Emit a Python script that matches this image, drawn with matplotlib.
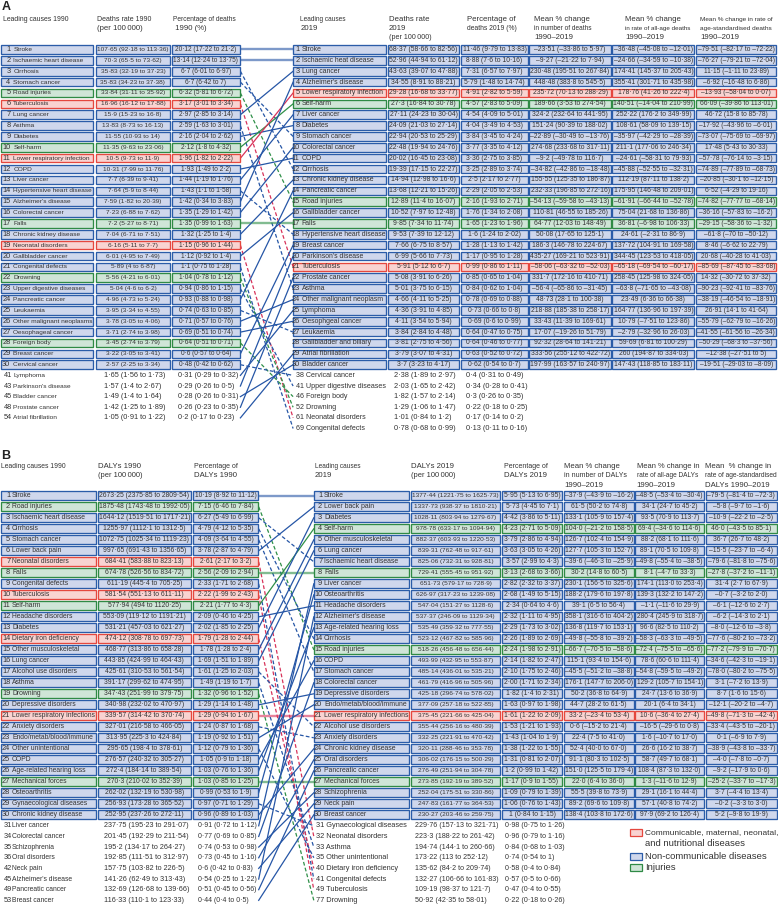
import matplotlib
matplotlib.use("Agg")
import matplotlib.pyplot as plt
from matplotlib.patches import Rectangle
from matplotlib import font_manager

avail = {f.name for f in font_manager.fontManager.ttflist}
FONT = [f for f in ["Liberation Sans Narrow", "Liberation Sans"] if f in avail][:1] or ["DejaVu Sans"]
plt.rcParams["font.family"] = FONT + ["DejaVu Sans"]
STRETCH = "normal"

# ---------------------------------------------------------------- DATA: panel A (deaths)
A90_CAUSE = ["Stroke", "Ischaemic heart disease", "Cirrhosis", "Stomach cancer", "Road injuries",
             "Tuberculosis", "Lung cancer", "Asthma", "Diabetes", "Self-harm",
             "Lower respiratory infection", "COPD", "Liver cancer", "Hypertensive heart disease",
             "Alzheimer's disease", "Colorectal cancer", "Falls", "Chronic kidney disease",
             "Neonatal disorders", "Gallbladder cancer", "Congenital defects", "Drowning",
             "Upper digestive diseases", "Pancreatic cancer", "Leukaemia", "Other malignant neoplasms",
             "Oesophageal cancer", "Foreign body", "Breast cancer", "Cervical cancer"]
A90_CAT = ["N", "N", "N", "N", "I", "C", "N", "N", "N", "I", "C", "N", "N", "N", "N",
           "N", "I", "N", "C", "N", "N", "I", "N", "N", "N", "N", "N", "I", "N", "N"]
A90_RATE = ["107.65 (92.18 to 113.36)", "70.3 (65.5 to 73.62)", "35.83 (32.19 to 37.23)",
            "35.83 (34.23 to 37.38)", "33.84 (31.11 to 35.92)", "16.96 (16.12 to 17.88)",
            "15.9 (15.23 to 16.8)", "13.83 (8.73 to 16.13)", "11.55 (10.93 to 14)",
            "11.35 (9.63 to 23.06)", "10.5 (9.73 to 11.9)", "10.31 (7.99 to 11.76)",
            "7.7 (6.39 to 9.41)", "7.64 (5.9 to 8.44)", "7.59 (1.82 to 20.39)",
            "7.23 (6.88 to 7.62)", "7.2 (5.27 to 8.71)", "7.04 (6.71 to 7.51)",
            "6.16 (5.11 to 7.7)", "6.01 (4.95 to 7.49)", "5.89 (4 to 6.87)",
            "5.56 (4.21 to 6.01)", "5.04 (4.6 to 6.2)", "4.96 (4.73 to 5.24)",
            "3.95 (3.34 to 4.55)", "3.78 (3.05 to 4.06)", "3.71 (2.74 to 3.98)",
            "3.45 (2.74 to 3.79)", "3.22 (3.05 to 3.41)", "2.57 (2.25 to 3.34)"]
A90_PCT = ["20.12 (17.22 to 21.2)", "13.14 (12.24 to 13.75)", "6.7 (6.01 to 6.97)",
           "6.7 (6.42 to 7)", "6.32 (5.81 to 6.72)", "3.17 (3.01 to 3.34)",
           "2.97 (2.85 to 3.14)", "2.59 (1.63 to 3.01)", "2.16 (2.04 to 2.62)",
           "2.12 (1.8 to 4.32)", "1.96 (1.82 to 2.22)", "1.93 (1.49 to 2.2)",
           "1.44 (1.19 to 1.76)", "1.43 (1.1 to 1.58)", "1.42 (0.34 to 3.83)",
           "1.35 (1.29 to 1.42)", "1.35 (0.99 to 1.63)", "1.32 (1.25 to 1.4)",
           "1.15 (0.96 to 1.44)", "1.12 (0.92 to 1.4)", "1.1 (0.75 to 1.28)",
           "1.04 (0.78 to 1.12)", "0.94 (0.86 to 1.15)", "0.93 (0.88 to 0.98)",
           "0.74 (0.63 to 0.85)", "0.71 (0.57 to 0.76)", "0.69 (0.51 to 0.74)",
           "0.64 (0.51 to 0.71)", "0.6 (0.57 to 0.64)", "0.48 (0.42 to 0.62)"]
A90_TO2019 = [1, 2, 12, 9, 15, 21, 3, 23, 8, 6, 5, 11, 7, 18, 4, 10, 17, 13, 61, 16,
              69, 52, 41, 14, 27, 24, 26, 46, 19, 38]

A90X_RANK = [41, 43, 45, 48, 54]
A90X_CAUSE = ["Lymphoma", "Parkinson's disease", "Bladder cancer", "Prostate cancer", "Atrial fibrillation"]
A90X_CAT = ["N", "N", "N", "N", "N"]
A90X_RATE = ["1.65 (1.56 to 1.73)", "1.57 (1.4 to 2.67)", "1.49 (1.4 to 1.64)",
             "1.42 (1.25 to 1.89)", "1.05 (0.91 to 1.22)"]
A90X_PCT = ["0.31 (0.29 to 0.32)", "0.29 (0.26 to 0.5)", "0.28 (0.26 to 0.31)",
            "0.26 (0.23 to 0.35)", "0.2 (0.17 to 0.23)"]
A90X_TO2019 = [25, 20, 30, 22, 29]

A19_CAUSE = ["Stroke", "Ischaemic heat disease", "Lung cancer", "Alzheimer's disease",
             "Lower respiratory infection", "Self-harm", "Liver cancer", "Diabetes",
             "Stomach cancer", "Colorectal cancer", "COPD", "Cirrhosis", "Chronic kidney disease",
             "Pancreatic cancer", "Road injuries", "Gallbladder cancer", "Falls",
             "Hypertensive heart disease", "Breast cancer", "Parkinson's disease", "Tuberculosis",
             "Prostate cancer", "Asthma", "Other malignant neoplasm", "Lymphoma",
             "Oesophgeal cancer", "Leukaemia", "Gallbladder and biliary", "Atrial fibrillation",
             "Bladder cancer"]
A19_CAT = ["N", "N", "N", "N", "C", "I", "N", "N", "N", "N", "N", "N", "N", "N", "I",
           "N", "I", "N", "N", "N", "C", "N", "N", "N", "N", "N", "N", "N", "N", "N"]
A19_RATE = ["68.37 (58.66 to 82.56)", "52.96 (44.94 to 61.12)", "43.63 (39.07 to 47.88)",
            "34.55 (8.91 to 88.21)", "29.28 (16.68 to 33.77)", "27.3 (16.84 to 30.78)",
            "27.11 (24.23 to 30.04)", "24.09 (21.03 to 27.14)", "22.94 (20.53 to 25.29)",
            "22.48 (19.94 to 24.76)", "20.02 (16.45 to 23.08)", "19.39 (17.15 to 22.27)",
            "14.94 (12.98 to 16.6)", "13.68 (12.21 to 15.26)", "12.89 (11.4 to 16.07)",
            "10.52 (7.97 to 12.48)", "9.85 (7.34 to 11.74)", "9.53 (7.39 to 12.12)",
            "7.66 (6.75 to 8.57)", "6.99 (5.66 to 7.73)", "5.91 (5.12 to 6.7)",
            "5.08 (3.91 to 6.26)", "5.01 (3.75 to 6.15)", "4.66 (4.11 to 5.25)",
            "4.36 (3.91 to 4.85)", "4.11 (3.54 to 5.94)", "3.84 (2.84 to 4.48)",
            "3.81 (2.75 to 4.56)", "3.79 (3.07 to 4.31)", "3.7 (3.23 to 4.17)"]
A19_PCT = ["11.46 (9.79 to 13.83)", "8.88 (7.6 to 10.16)", "7.31 (6.57 to 7.97)",
           "5.79 (1.48 to 14.74)", "4.91 (2.82 to 5.59)", "4.57 (2.83 to 5.09)",
           "4.54 (4.09 to 5.01)", "4.04 (3.49 to 4.53)", "3.84 (3.45 to 4.24)",
           "3.77 (3.35 to 4.12)", "3.36 (2.75 to 3.85)", "3.25 (2.89 to 3.74)",
           "2.5 (2.17 to 2.77)", "2.29 (2.05 to 2.53)", "2.16 (1.93 to 2.71)",
           "1.76 (1.34 to 2.08)", "1.65 (1.23 to 1.96)", "1.6 (1.24 to 2.02)",
           "1.28 (1.13 to 1.42)", "1.17 (0.95 to 1.28)", "0.99 (0.86 to 1.11)",
           "0.85 (0.65 to 1.04)", "0.84 (0.62 to 1.04)", "0.78 (0.69 to 0.88)",
           "0.73 (0.66 to 0.8)", "0.69 (0.6 to 0.99)", "0.64 (0.47 to 0.75)",
           "0.64 (0.46 to 0.77)", "0.63 (0.52 to 0.72)", "0.62 (0.54 to 0.7)"]
A19_CHG_NUM = ["-23.51 (-33.86 to 5.97)", "-9.27 (-21.22 to 7.94)", "230.48 (195.51 to 267.84)",
               "448.48 (383.8 to 545.5)", "235.72 (70.13 to 288.29)", "189.66 (3.53 to 274.54)",
               "324.2 (232.64 to 441.95)", "151.24 (90.39 to 188.02)", "-22.89 (-30.49 to -13.76)",
               "274.68 (233.68 to 317.11)", "-9.2 (-49.78 to 116.7)", "-34.82 (-42.86 to -18.48)",
               "155.55 (125.35 to 186.87)", "232.33 (196.85 to 272.16)", "-54.13 (-59.58 to -43.13)",
               "110.81 (46.55 to 185.26)", "64.77 (12.03 to 148.49)", "50.08 (17.65 to 125.1)",
               "186.3 (146.78 to 224.67)", "435.27 (169.21 to 523.91)", "-58.06 (-63.32 to -52.03)",
               "331.7 (172.16 to 410.71)", "-56.4 (-65.86 to -31.45)", "48.73 (28.1 to 100.38)",
               "218.88 (185.38 to 258.17)", "33.43 (11.39 to 169.61)", "17.07 (-19.26 to 51.79)",
               "92.32 (28.64 to 141.21)", "333.56 (255.12 to 422.72)", "197.99 (163.57 to 240.97)"]
A19_CHG_ALL = ["-36.48 (-45.08 to -12.01)", "-24.66 (-34.59 to -10.38)", "174.41 (145.37 to 205.43)",
               "355.41 (301.71 to 435.98)", "178.76 (41.26 to 222.4)", "140.51 (-14.04 to 210.99)",
               "252.22 (176.2 to 349.99)", "108.61 (58.09 to 139.15)", "-35.97 (-42.29 to -28.39)",
               "211.1 (177.06 to 246.34)", "-24.61 (-58.31 to 79.93)", "-45.88 (-52.55 to -32.31)",
               "112.19 (87.11 to 138.2)", "175.95 (146.48 to 209.01)", "-61.91 (-66.44 to -52.78)",
               "75.04 (21.68 to 136.86)", "36.81 (-6.98 to 106.33)", "24.61 (-2.31 to 86.9)",
               "137.72 (104.91 to 169.58)", "344.45 (123.53 to 418.05)", "-65.18 (-69.54 to -60.17)",
               "258.45 (125.98 to 324.05)", "-63.8 (-71.65 to -43.08)", "23.49 (6.36 to 66.38)",
               "164.77 (136.96 to 197.39)", "10.79 (-7.51 to 123.86)", "-2.79 (-32.96 to 26.03)",
               "59.69 (6.81 to 100.29)", "260 (194.87 to 334.03)", "147.43 (118.85 to 183.11)"]
A19_CHG_STD = ["-79.51 (-82.17 to -72.22)", "-76.27 (-79.21 to -72.04)", "11.15 (-1.11 to 23.89)",
               "-6.92 (-16.48 to 6.86)", "-13.93 (-58.04 to 0.07)", "66.09 (-39.86 to 113.01)",
               "46.72 (15.8 to 85.78)", "-17.92 (-43.96 to -6.01)", "-73.07 (-75.69 to -69.97)",
               "17.48 (5.43 to 30.33)", "-57.78 (-76.14 to -3.15)", "-74.89 (-77.89 to -68.73)",
               "-20.85 (-30.1 to -12.15)", "6.52 (-4.29 to 19.16)", "-74.82 (-77.77 to -68.14)",
               "-36.16 (-57.83 to -16.2)", "-29.15 (-58.36 to -1.32)", "-61.8 (-70 to -50.12)",
               "8.46 (-6.62 to 22.79)", "20.68 (-40.28 to 41.03)", "-85.69 (-87.45 to -83.68)",
               "14.32 (-30.72 to 37.32)", "-90.23 (-92.41 to -83.76)", "-38.19 (-46.54 to -18.91)",
               "26.91 (14.1 to 41.64)", "-55.79 (-62.79 to -16.26)", "-41.55 (-61.56 to -26.34)",
               "-50.29 (-68.3 to -37.56)", "-12.38 (-27.51 to 5)", "-19.51 (-29.03 to -8.09)"]
A19X_RANK = [38, 41, 46, 52, 61, 69]
A19X_CAUSE = ["Cervical cancer", "Upper digestive diseases", "Foreign body", "Drowning",
              "Neonatal disorders", "Congenital defects"]
A19X_RATE = ["2.38 (1.89 to 2.97)", "2.03 (1.65 to 2.42)", "1.82 (1.57 to 2.14)",
             "1.29 (1.06 to 1.47)", "1.01 (0.84 to 1.2)", "0.78 (0.68 to 0.99)"]
A19X_PCT = ["0.4 (0.31 to 0.49)", "0.34 (0.28 to 0.41)", "0.3 (0.26 to 0.35)",
            "0.22 (0.18 to 0.25)", "0.17 (0.14 to 0.2)", "0.13 (0.11 to 0.16)"]

# ---------------------------------------------------------------- DATA: panel B (DALYs)
B90_CAUSE = ["Stroke", "Road injuries", "Ischaemic heart disease", "Cirrhosis", "Stomach cancer",
             "Lower back pain", "Neonatal disorders", "Falls", "Congenital defects", "Tuberculosis",
             "Self-harm", "Headache disorders", "Diabetes", "Dietary iron deficiency",
             "Other musculoskeletal", "Lung cancer", "Alcohol use disorders", "Asthma", "Drowning",
             "Depressive disorders", "Lower respiratory infections", "Anxiety disorders",
             "Endo/metab/blood/immune", "Other unintentional", "COPD", "Age-related hearing loss",
             "Mechanical forces", "Osteoarthritis", "Gynaecological diseases", "Chronic kidney disease"]
B90_CAT = ["N", "I", "N", "N", "N", "N", "C", "I", "N", "C", "I", "N", "N", "C", "N",
           "N", "N", "N", "I", "N", "C", "N", "N", "N", "N", "N", "I", "N", "N", "N"]
B90_RATE = ["2673.25 (2375.85 to 2809.54)", "1875.48 (1743.48 to 1992.05)", "1644.12 (1519.51 to 1717.21)",
            "1255.97 (1112.1 to 1312.5)", "1072.75 (1025.34 to 1119.23)", "997.65 (691.43 to 1356.65)",
            "684.41 (583.88 to 823.13)", "674.78 (526.56 to 834.72)", "611.19 (445.4 to 705.25)",
            "581.54 (551.13 to 611.11)", "577.94 (494 to 1120.25)", "553.09 (119.12 to 1191.21)",
            "531.21 (457.03 to 621.27)", "474.12 (308.78 to 697.73)", "468.77 (313.86 to 658.28)",
            "443.85 (424.99 to 464.43)", "425.61 (310.53 to 561.54)", "391.17 (299.62 to 474.95)",
            "347.43 (251.99 to 379.75)", "340.98 (232.02 to 470.97)", "339.57 (314.42 to 370.74)",
            "327.01 (216.58 to 466.05)", "313.95 (225.3 to 424.84)", "295.65 (198.4 to 378.61)",
            "276.57 (240.32 to 305.27)", "272.4 (184.14 to 389.54)", "270.3 (210.02 to 352.39)",
            "262.02 (132.19 to 530.98)", "256.93 (173.28 to 365.52)", "252.95 (237.26 to 272.11)"]
B90_PCT = ["10.19 (8.92 to 11.12)", "7.15 (6.46 to 7.84)", "6.27 (5.49 to 6.99)",
           "4.79 (4.12 to 5.35)", "4.09 (3.64 to 4.55)", "3.78 (2.87 to 4.79)",
           "2.61 (2.17 to 3.2)", "2.56 (2.09 to 2.94)", "2.33 (1.71 to 2.68)",
           "2.22 (1.99 to 2.43)", "2.21 (1.77 to 4.3)", "2.09 (0.46 to 4.25)",
           "2.02 (1.85 to 2.25)", "1.79 (1.28 to 2.44)", "1.78 (1.28 to 2.4)",
           "1.69 (1.51 to 1.89)", "1.61 (1.25 to 2.03)", "1.49 (1.19 to 1.7)",
           "1.32 (0.96 to 1.52)", "1.29 (1.14 to 1.48)", "1.29 (0.94 to 1.67)",
           "1.24 (0.87 to 1.68)", "1.19 (0.92 to 1.51)", "1.12 (0.79 to 1.36)",
           "1.05 (0.9 to 1.18)", "1.03 (0.76 to 1.36)", "1.03 (0.85 to 1.25)",
           "0.99 (0.53 to 1.9)", "0.97 (0.71 to 1.29)", "0.96 (0.89 to 1.03)"]
B90_TO2019 = [1, 15, 7, 14, 17, 2, 32, 8, 41, 49, 4, 11, 3, 40, 5, 6, 22, 33, 77, 19,
              21, 23, 20, 35, 16, 13, 27, 10, 31, 24]
B90X_RANK = [31, 34, 35, 36, 42, 45, 49, 53]
B90X_CAUSE = ["Liver cancer", "Colorectal cancer", "Schizophrenia", "Oral disorders", "Neck pain",
              "Alzheimer's disease", "Pancreatic cancer", "Breast cancer"]
B90X_CAT = ["N", "N", "N", "N", "N", "N", "N", "N"]
B90X_RATE = ["237.75 (195.23 to 291.07)", "201.45 (192.29 to 211.54)", "195.2 (134.17 to 264.27)",
             "192.85 (111.51 to 312.97)", "157.75 (103.82 to 226.5)", "141.26 (62.49 to 313.43)",
             "132.69 (126.68 to 139.66)", "116.33 (110.1 to 123.33)"]
B90X_PCT = ["0.91 (0.72 to 1.12)", "0.77 (0.69 to 0.85)", "0.74 (0.53 to 0.98)",
            "0.73 (0.45 to 1.16)", "0.6 (0.42 to 0.83)", "0.54 (0.25 to 1.22)",
            "0.51 (0.45 to 0.56)", "0.44 (0.4 to 0.5)"]
B90X_TO2019 = [9, 18, 28, 25, 29, 12, 26, 30]

B19_CAUSE = ["Stroke", "Lower back pain", "Diabetes", "Self-harm", "Other musculoskeletal",
             "Lung cancer", "Ischaemic heart disease", "Falls", "Liver cancer", "Osteoarthritis",
             "Headache disorders", "Alzheimer's disease", "Age-related hearing loss", "Cirrhosis",
             "Road injuries", "COPD", "Stomach cancer", "Colorectal cancer", "Depressive disorders",
             "Endo/metab/blood/immune", "Lower respiratory infections", "Alcohol use disorders",
             "Anxiety disorders", "Chronic kidney disease", "Oral disorders", "Pancreatic cancer",
             "Mechanical forces", "Schizophrenia", "Neck pain", "Breast cancer"]
B19_CAT = ["N", "N", "N", "I", "N", "N", "N", "I", "N", "N", "N", "N", "N", "N", "I",
           "N", "N", "N", "N", "N", "C", "N", "N", "N", "N", "N", "I", "N", "N", "N"]
B19_RATE = ["1377.44 (1221.75 to 1625.73)", "1337.73 (938.37 to 1810.21)", "1028.11 (803.94 to 1279.67)",
            "978.78 (633.17 to 1094.94)", "882.37 (603.93 to 1220.53)", "839.31 (762.48 to 917.61)",
            "825.06 (732.31 to 928.81)", "729.41 (555.45 to 951.92)", "651.73 (579.17 to 728.9)",
            "626.97 (317.23 to 1239.08)", "547.04 (151.27 to 1128.6)", "537.37 (246.09 to 1129.34)",
            "535.49 (359.32 to 777.55)", "523.12 (467.82 to 585.96)", "518.26 (456.48 to 656.44)",
            "493.99 (432.95 to 553.87)", "485.14 (436.01 to 535.21)", "461.79 (416.96 to 505.96)",
            "425.18 (296.74 to 578.02)", "377.09 (257.18 to 522.85)", "375.45 (221.66 to 425.04)",
            "355.44 (256.16 to 480.39)", "332.25 (221.91 to 470.42)", "320.11 (288.46 to 353.78)",
            "306.02 (176.15 to 500.29)", "276.49 (251.94 to 304.78)", "273.85 (192.19 to 389.52)",
            "252.04 (175.51 to 330.86)", "247.83 (161.77 to 364.53)", "230.27 (203.46 to 259.75)"]
B19_PCT = ["5.95 (5.13 to 6.95)", "5.73 (4.45 to 7.1)", "4.42 (3.86 to 5.11)", "4.23 (2.71 to 5.09)",
           "3.79 (2.86 to 4.94)", "3.63 (3.05 to 4.26)", "3.57 (2.99 to 4.3)", "3.13 (2.68 to 3.66)",
           "2.82 (2.32 to 3.37)", "2.68 (1.49 to 5.15)", "2.34 (0.64 to 4.6)", "2.32 (1.11 to 4.95)",
           "2.29 (1.73 to 3.02)", "2.26 (1.89 to 2.69)", "2.24 (1.98 to 2.91)", "2.14 (1.82 to 2.47)",
           "2.10 (1.75 to 2.46)", "2.00 (1.71 to 2.34)", "1.82 (1.4 to 2.31)", "1.63 (0.97 to 1.98)",
           "1.61 (1.22 to 2.09)", "1.53 (1.21 to 1.93)", "1.43 (1.04 to 1.9)", "1.38 (1.22 to 1.55)",
           "1.31 (0.81 to 2.07)", "1.2 (0.99 to 1.42)", "1.17 (0.9 to 1.55)", "1.09 (0.79 to 1.39)",
           "1.06 (0.76 to 1.43)", "1 (0.84 to 1.15)"]
B19_CHG_NUM = ["-37.9 (-43.9 to -16.2)", "61.5 (50.2 to 74.8)", "133.1 (105.9 to 157.4)",
               "104.0 (-21.2 to 158.5)", "126.7 (102.4 to 154.9)", "127.7 (105.3 to 152.7)",
               "-39.6 (-46.3 to -25.9)", "30.2 (14.8 to 60.5)", "230.1 (156.5 to 325.6)",
               "188.2 (179.6 to 197.8)", "39.1 (6.5 to 56.4)", "358.1 (316.6 to 404.2)",
               "136.8 (119.7 to 153.1)", "-49.8 (-55.8 to -39.2)", "-66.7 (-70.5 to -58.6)",
               "115.1 (93.4 to 154.6)", "-45.5 (-51.2 to -38.8)", "176.1 (147.7 to 206.0)",
               "50.2 (36.8 to 64.9)", "44.7 (28.2 to 61.5)", "33.2 (-23.4 to 53.4)",
               "0.6 (-15.2 to 21.4)", "22.4 (7.5 to 41.0)", "52.4 (40.0 to 67.0)",
               "91.1 (80.3 to 102.5)", "151.0 (125.5 to 179.4)", "22.0 (6.4 to 36.0)",
               "55.5 (39.8 to 73.9)", "89.2 (69.6 to 109.8)", "138.4 (103.8 to 172.6)"]
B19_CHG_ALL = ["-48.5 (-53.4 to -30.4)", "34.1 (24.7 to 45.2)", "93.5 (70.9 to 113.7)",
               "69.4 (-34.6 to 114.6)", "88.2 (68.1 to 111.6)", "89.1 (70.5 to 109.8)",
               "-49.8 (-55.4 to -38.5)", "8.1 (-4.7 to 33.3)", "174.1 (113.0 to 253.4)",
               "139.3 (132.2 to 147.2)", "-1.1 (-11.6 to 29.9)", "280.4 (245.9 to 318.7)",
               "96.6 (82.5 to 110.2)", "-58.3 (-63.3 to -49.5)", "-72.4 (-75.5 to -65.6)",
               "78.6 (60.6 to 111.4)", "-54.8 (-59.5 to -49.2)", "129.2 (105.7 to 154.1)",
               "24.7 (13.6 to 36.9)", "20.1 (6.4 to 34.1)", "10.6 (-36.4 to 27.4)",
               "-16.5 (-29.6 to 0.8)", "1.6 (-10.7 to 17.0)", "26.6 (16.2 to 38.7)",
               "58.7 (49.7 to 68.1)", "108.4 (87.3 to 132.0)", "1.3 (-11.6 to 12.9)",
               "29.1 (16.1 to 44.4)", "57.1 (40.8 to 74.2)", "97.9 (69.2 to 126.4)"]
B19_CHG_STD = ["-79.5 (-81.4 to -72.3)", "-5.8 (-9.7 to -1.6)", "-10.9 (-22.2 to -2.5)",
               "46.0 (-43.5 to 85.1)", "36.7 (26.7 to 48.2)", "-15.5 (-23.7 to -6.4)",
               "-79.6 (-81.8 to -75.6)", "-27.8 (-37.2 to -11.1)", "31.4 (2.7 to 67.9)",
               "-0.7 (-3.2 to 2.0)", "-6.1 (-12.6 to 2.7)", "-6.2 (-14.3 to 2.1)",
               "-8.0 (-12.6 to -3.8)", "-77.6 (-80.2 to -73.2)", "-77.2 (-79.9 to -70.7)",
               "-34.6 (-42.3 to -19.1)", "-78.0 (-80.2 to -75.5)", "3.1 (-7.2 to 13.9)",
               "8.7 (1.6 to 15.6)", "-12.1 (-20.2 to -4.7)", "-49.8 (-71.3 to -42.4)",
               "-33.4 (-43.5 to -20.1)", "0.1 (-6.9 to 7.9)", "-38.9 (-43.8 to -33.7)",
               "-4.0 (-7.8 to -0.7)", "-9.2 (-17.9 to 0.6)", "-25.2 (-33.7 to -17.3)",
               "3.7 (-4.4 to 13.4)", "-0.2 (-3.3 to 3.0)", "5.2 (-9.8 to 19.9)"]
B19X_RANK = [31, 32, 33, 35, 40, 41, 49, 77]
B19X_CAUSE = ["Gynaecological diseases", "Neonatal disorders", "Asthma", "Other unintentional",
              "Dietary iron deficiency", "Congenital defects", "Tuberculosis", "Drowning"]
B19X_RATE = ["229.76 (157.13 to 321.71)", "223.3 (188.22 to 261.42)", "194.74 (144.1 to 260.66)",
             "173.22 (113 to 252.12)", "135.62 (84.2 to 209.74)", "132.27 (106.66 to 161.83)",
             "109.19 (98.37 to 121.7)", "50.92 (42.35 to 58.01)"]
B19X_PCT = ["0.98 (0.75 to 1.26)", "0.96 (0.79 to 1.16)", "0.84 (0.68 to 1.03)", "0.74 (0.54 to 1)",
            "0.58 (0.4 to 0.84)", "0.57 (0.5 to 0.66)", "0.47 (0.4 to 0.55)", "0.22 (0.18 to 0.26)"]

LEGEND_LABELS = ["Communicable, maternal, neonatal,\nand nutritional diseases",
                 "Non-communicable diseases", "Injuries"]
LEGEND_CATS = ["C", "N", "I"]

# ---------------------------------------------------------------- styles
FILL = {"N": "#cfd7ec", "C": "#f9d3d1", "I": "#cfe5d7"}
EDGE = {"N": "#2b5ca8", "C": "#e5473e", "I": "#2f8a45"}
LINEC = {"N": "#2656a6", "C": "#d8335a", "I": "#2f9048"}
TXT = "#333333"
FS = 5.3
FSH = 5.6


def fmt(s):
    return s.replace(".", "\u00b7").replace("-", "\u2013")


fig = plt.figure(figsize=(7.78, 9.05), dpi=100)
ax = fig.add_axes([0, 0, 1, 1])
ax.set_xlim(0, 778)
ax.set_ylim(905, 0)
ax.axis("off")
renderer = fig.canvas.get_renderer()
GROUPS = {}


def t(x, y, s, ha="left", fs=FS, maxw=None, group=None, **kw):
    o = ax.text(x, y, s, ha=ha, va="center", fontsize=fs, color=TXT, fontstretch=STRETCH, **kw)
    if group is not None:
        GROUPS.setdefault(group, [maxw, []])[1].append(o)
    elif maxw is not None:
        w = o.get_window_extent(renderer).width
        if w > maxw:
            o.set_fontsize(fs * maxw / w)
    return o


def fit_groups():
    for key, (maxw, objs) in GROUPS.items():
        w = max(o.get_window_extent(renderer).width for o in objs)
        if w > maxw:
            s = maxw / w
            for o in objs:
                o.set_fontsize(o.get_fontsize() * s)


def box(x0, x1, yc, h, cat):
    ax.add_patch(Rectangle((x0, yc - h / 2), x1 - x0, h, facecolor=FILL[cat],
                           edgecolor=EDGE[cat], lw=0.95, zorder=2))


def panel(g, d, pk):
    n = len(d["c90"])
    ybox = lambda i: g["y0"] + i * g["pitch"]
    yext = lambda j: g["ye0"] + j * g["epitch"]
    L, R = g["left"], g["right"]
    wn_l = L[0][1] - L[0][0] - g["nm_l"] - 1.0
    wn_r = R[0][1] - R[0][0] - g["nm_r"] - 1.0
    # left boxes
    for i in range(n):
        y = ybox(i)
        cat = d["cat90"][i]
        for (x0, x1) in L:
            box(x0, x1, y, g["h"], cat)
        t(L[0][0] + g["rk_l"], y, str(i + 1), ha="right")
        t(L[0][0] + g["nm_l"], y, d["c90"][i], maxw=wn_l, group=pk + "nl")
        t((L[1][0] + L[1][1]) / 2, y, fmt(d["r90"][i]), ha="center",
          maxw=L[1][1] - L[1][0] - 2.5, group=pk + "rl")
        t((L[2][0] + L[2][1]) / 2, y, fmt(d["p90"][i]), ha="center",
          maxw=L[2][1] - L[2][0] - 2.5, group=pk + "pl")
    for j in range(len(d["x90rank"])):
        y = yext(j)
        t(L[0][0] + g["rk_l"] + 1.5, y, str(d["x90rank"][j]), ha="right")
        t(L[0][0] + g["nm_l"], y, d["x90cause"][j], maxw=wn_l, group=pk + "nl")
        t(g["lx_rate"], y, fmt(d["x90rate"][j]), maxw=L[1][1] - g["lx_rate"] - 1, group=pk + "xrl")
        t(g["lx_pct"], y, fmt(d["x90pct"][j]), maxw=L[2][1] - g["lx_pct"] - 1, group=pk + "xpl")
    # right boxes
    for i in range(n):
        y = ybox(i)
        cat = d["cat19"][i]
        for (x0, x1) in R:
            box(x0, x1, y, g["h"], cat)
        t(R[0][0] + g["rk_r"], y, str(i + 1), ha="right")
        t(R[0][0] + g["nm_r"], y, d["c19"][i], maxw=wn_r, group=pk + "nr")
        vals = [d["r19"][i], d["p19"][i], d["ch1"][i], d["ch2"][i], d["ch3"][i]]
        for k, v in enumerate(vals):
            x0, x1 = R[k + 1]
            t((x0 + x1) / 2, y, fmt(v), ha="center", maxw=x1 - x0 - 2.5, group=pk + "r%d" % k)
    for j in range(len(d["x19rank"])):
        y = yext(j)
        t(R[0][0] + 2.3, y, f"{d['x19rank'][j]} {d['x19cause'][j]}",
          maxw=R[0][1] - R[0][0] - 3, group=pk + "xnr")
        t(g["rx_rate"], y, fmt(d["x19rate"][j]), maxw=R[1][1] - g["rx_rate"] - 1, group=pk + "xrr")
        t(g["rx_pct"], y, fmt(d["x19pct"][j]), maxw=R[2][1] - g["rx_pct"] + 4, group=pk + "xpr")

    # connecting lines
    def y19(rank):
        if rank <= n:
            return ybox(rank - 1)
        return yext(d["x19rank"].index(rank))

    items = [(i + 1, ybox(i), d["to19"][i], d["cat90"][i]) for i in range(n)]
    items += [(d["x90rank"][j], yext(j), d["x90to19"][j], d["x90cat"][j])
              for j in range(len(d["x90rank"]))]
    x1, x2 = L[2][1] + 0.4, R[0][0] - 0.2
    for r90, ya, r19, cat in items:
        yb = y19(r19)
        if r19 == r90:
            ax.plot([x1, x2], [ya, yb], color=LINEC[cat], lw=1.7, alpha=0.6,
                    solid_capstyle="butt", zorder=1)
        elif r19 < r90:
            ax.plot([x1, x2], [ya, yb], color=LINEC[cat], lw=0.9, zorder=1)
        else:
            ax.plot([x1, x2], [ya, yb], color=LINEC[cat], lw=0.9,
                    linestyle=(0, (3.0, 1.8)), zorder=1)

    # headers
    for (x, y, txt, mw) in g["headers"]:
        for k, line in enumerate(txt.split("\n")):
            t(x, y + k * 9.2, line, fs=FSH, maxw=mw)
    ax.text(g["label"][0], g["label"][1], g["label"][2], fontsize=9, fontweight="bold",
            color="#222222", va="top", ha="left")


GA = dict(y0=49.5, pitch=10.87, h=8.6, ye0=375.4, epitch=10.62,
          left=[(0.8, 93.3), (95.8, 170.0), (171.8, 240.0)],
          right=[(293.3, 386.0), (387.6, 459.3), (461.3, 527.7), (529.4, 610.7),
                 (612.4, 694.3), (696.0, 776.5)],
          rk_l=9.6, nm_l=12.5, rk_r=6.3, nm_r=8.3,
          lx_rate=104.3, lx_pct=178.0, rx_rate=394.3, rx_pct=466.0,
          label=(1.5, 0.5, "A"),
          headers=[(3.3, 19.3, "Leading causes 1990", 66),
                   (96.7, 19.3, "Deaths rate 1990\n(per 100\u2009000)", 54),
                   (172.7, 19.3, "Percentage of deaths\n 1990 (%)", 64),
                   (300.5, 19.3, "Leading causes\n2019", 46),
                   (389.0, 19.3, "Deaths rate\n2019\n(per 100\u2009000)", 42),
                   (466.7, 19.3, "Percentage of\ndeaths 2019 (%)", 50),
                   (534.3, 19.3, "Mean % change\nin number of deaths\n1990\u20132019", 58),
                   (625.0, 19.3, "Mean % change\nin rate of all-age deaths\n1990\u20132019", 66),
                   (700.0, 19.3, "Mean % change in rate of\nage-standardised deaths\n1990\u20132019", 72)])
DA = dict(c90=A90_CAUSE, cat90=A90_CAT, r90=A90_RATE, p90=A90_PCT, to19=A90_TO2019,
          x90rank=A90X_RANK, x90cause=A90X_CAUSE, x90cat=A90X_CAT, x90rate=A90X_RATE,
          x90pct=A90X_PCT, x90to19=A90X_TO2019,
          c19=A19_CAUSE, cat19=A19_CAT, r19=A19_RATE, p19=A19_PCT, ch1=A19_CHG_NUM,
          ch2=A19_CHG_ALL, ch3=A19_CHG_STD, x19rank=A19X_RANK, x19cause=A19X_CAUSE,
          x19rate=A19X_RATE, x19pct=A19X_PCT)

GB = dict(y0=495.8, pitch=11.0, h=8.8, ye0=825.8, epitch=10.65,
          left=[(0.8, 96.0), (97.7, 190.7), (192.7, 258.3)],
          right=[(314.0, 409.0), (410.7, 500.3), (502.3, 561.7), (563.7, 633.7),
                 (635.3, 704.0), (706.0, 776.7)],
          rk_l=9.4, nm_l=11.3, rk_r=8.2, nm_r=10.0,
          lx_rate=104.3, lx_pct=198.3, rx_rate=415.5, rx_pct=505.5,
          label=(1.5, 449.5, "B"),
          headers=[(1.2, 466.7, "Leading causes 1990", 64),
                   (98.0, 466.7, "DALYs 1990\n(per 100\u2009000)", 44),
                   (194.0, 466.7, "Percentage of\nDALYs 1990", 44),
                   (315.0, 466.7, "Leading causes\n2019", 46),
                   (411.0, 466.7, "DALYs 2019\n(per 100\u2009000)", 44),
                   (504.0, 466.7, "Percentage of\nDALYs 2019", 44),
                   (564.0, 466.7, "Mean % change\nin number of DALYs\n1990\u20132019", 62),
                   (636.7, 466.7, "Mean % change in\nrate of all-age DALYs\n1990\u20132019", 62),
                   (705.0, 466.7, "Mean  % change in\nrate of age-standardised\nDALYs 1990\u20132019", 72)])
DB = dict(c90=B90_CAUSE, cat90=B90_CAT, r90=B90_RATE, p90=B90_PCT, to19=B90_TO2019,
          x90rank=B90X_RANK, x90cause=B90X_CAUSE, x90cat=B90X_CAT, x90rate=B90X_RATE,
          x90pct=B90X_PCT, x90to19=B90X_TO2019,
          c19=B19_CAUSE, cat19=B19_CAT, r19=B19_RATE, p19=B19_PCT, ch1=B19_CHG_NUM,
          ch2=B19_CHG_ALL, ch3=B19_CHG_STD, x19rank=B19X_RANK, x19cause=B19X_CAUSE,
          x19rate=B19X_RATE, x19pct=B19X_PCT)

panel(GA, DA, "A")
panel(GB, DB, "B")
fit_groups()

# legend
leg_y = [832.5, 856.2, 867.7]
for lab, cat, y in zip(LEGEND_LABELS, LEGEND_CATS, leg_y):
    ax.add_patch(Rectangle((630.0, y - 3.5), 11.7, 7.0, facecolor=FILL[cat],
                           edgecolor=EDGE[cat], lw=0.9))
    for k, line in enumerate(lab.split("\n")):
        t(645.0, y + k * 11.0, line, fs=6.8, maxw=132)

fig.savefig("out.png", dpi=100)
